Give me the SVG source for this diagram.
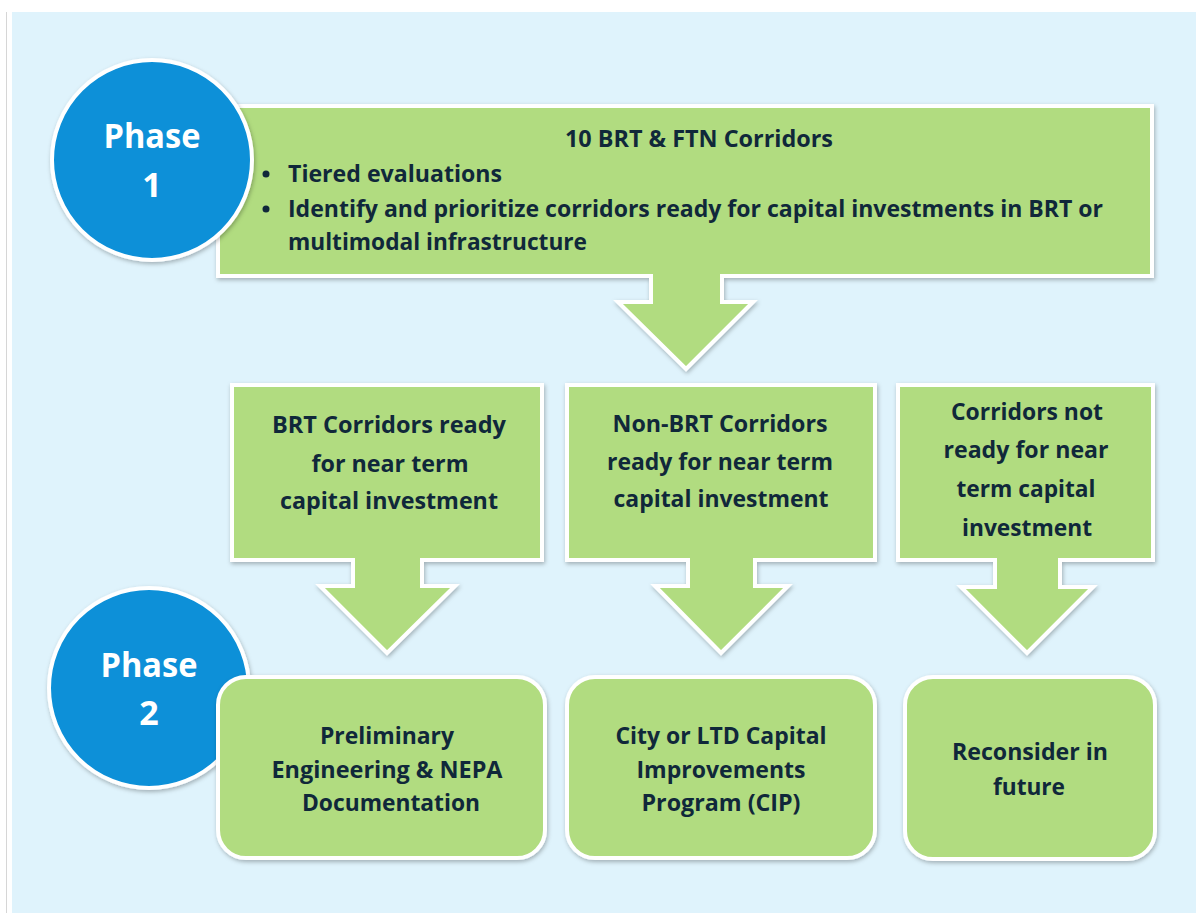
<svg xmlns="http://www.w3.org/2000/svg" width="1196" height="921" viewBox="0 0 1196 921">
<defs>
<filter id="sh" x="-10%" y="-10%" width="120%" height="130%">
<feDropShadow dx="1" dy="2" stdDeviation="2" flood-color="#000" flood-opacity="0.28"/>
</filter>
<style>
.box{fill:#B1DC80;stroke:#fff;stroke-width:4;stroke-linejoin:miter;filter:url(#sh)}
.circ{fill:#0D90D8;stroke:#fff;stroke-width:4;filter:url(#sh)}
.t{font-family:"Open Sans","Noto Sans",sans-serif;font-weight:700;font-size:24px;fill:#10283A}
.c{text-anchor:middle}
.p{font-family:"Open Sans","Noto Sans",sans-serif;font-weight:700;font-size:34px;fill:#fff;text-anchor:middle}
</style>
</defs>
<rect x="0" y="0" width="1196" height="921" fill="#fff"/>
<rect x="12" y="12" width="1184" height="901" fill="#DFF3FC"/>
<line x1="6.5" y1="12" x2="6.5" y2="913" stroke="#d6d6d6" stroke-width="1"/>

<g id="connectors"></g>

<g id="top-callout">
<path class="box" d="M218,106 H1152 V276 H722 V302 H753 L686,369 L618,302 H651 V276 H218 Z"/>
<text class="t c" x="699" y="147" textLength="268" lengthAdjust="spacingAndGlyphs">10 BRT &amp; FTN Corridors</text>
<circle cx="266" cy="174" r="3.5" fill="#10283A"/>
<text class="t" x="288" y="182" textLength="214" lengthAdjust="spacingAndGlyphs">Tiered evaluations</text>
<circle cx="266" cy="209" r="3.5" fill="#10283A"/>
<text class="t" x="288" y="217" textLength="815" lengthAdjust="spacingAndGlyphs">Identify and prioritize corridors ready for capital investments in BRT or</text>
<text class="t" x="288" y="250" textLength="299" lengthAdjust="spacingAndGlyphs">multimodal infrastructure</text>
</g>

<g id="phase1">
<circle class="circ" cx="152" cy="160" r="100"/>
<text class="p" x="152" y="148" textLength="97" lengthAdjust="spacingAndGlyphs">Phase</text>
<text class="p" x="152" y="197">1</text>
</g>

<g id="brt-callout">
<path class="box" d="M232,385 H542 V560 H422 V586 H455 L387,653 L320,586 H353 V560 H232 Z"/>
<text class="t c" x="389" y="433" textLength="234" lengthAdjust="spacingAndGlyphs">BRT Corridors ready</text>
<text class="t c" x="390" y="472" textLength="157" lengthAdjust="spacingAndGlyphs">for near term</text>
<text class="t c" x="389" y="509" textLength="218" lengthAdjust="spacingAndGlyphs">capital investment</text>
</g>

<g id="nonbrt-callout">
<path class="box" d="M567,385 H875 V560 H755 V586 H788 L721,653 L655,586 H688 V560 H567 Z"/>
<text class="t c" x="720" y="432" textLength="215" lengthAdjust="spacingAndGlyphs">Non-BRT Corridors</text>
<text class="t c" x="720" y="470" textLength="226" lengthAdjust="spacingAndGlyphs">ready for near term</text>
<text class="t c" x="721" y="507" textLength="215" lengthAdjust="spacingAndGlyphs">capital investment</text>
</g>

<g id="notready-callout">
<path class="box" d="M898,385 H1153 V560 H1060 V587 H1093 L1027,653 L961,587 H995 V560 H898 Z"/>
<text class="t c" x="1027" y="420" textLength="152" lengthAdjust="spacingAndGlyphs">Corridors not</text>
<text class="t c" x="1026" y="458" textLength="165" lengthAdjust="spacingAndGlyphs">ready for near</text>
<text class="t c" x="1026" y="497" textLength="139" lengthAdjust="spacingAndGlyphs">term capital</text>
<text class="t c" x="1027" y="536" textLength="130" lengthAdjust="spacingAndGlyphs">investment</text>
</g>

<g id="phase2">
<circle class="circ" cx="149" cy="688" r="100"/>
<text class="p" x="149" y="677" textLength="97" lengthAdjust="spacingAndGlyphs">Phase</text>
<text class="p" x="149" y="725">2</text>
</g>

<g id="prelim-box">
<rect class="box" x="218" y="677" width="327" height="181" rx="28"/>
<text class="t c" x="387" y="744" textLength="134" lengthAdjust="spacingAndGlyphs">Preliminary</text>
<text class="t c" x="387" y="778" textLength="231" lengthAdjust="spacingAndGlyphs">Engineering &amp; NEPA</text>
<text class="t c" x="391" y="811" textLength="178" lengthAdjust="spacingAndGlyphs">Documentation</text>
</g>

<g id="cip-box">
<rect class="box" x="567" y="677" width="308" height="181" rx="28"/>
<text class="t c" x="721" y="744" textLength="211" lengthAdjust="spacingAndGlyphs">City or LTD Capital</text>
<text class="t c" x="721" y="778" textLength="169" lengthAdjust="spacingAndGlyphs">Improvements</text>
<text class="t c" x="721" y="811" textLength="159" lengthAdjust="spacingAndGlyphs">Program (CIP)</text>
</g>

<g id="reconsider-box">
<rect class="box" x="905" y="677" width="250" height="182" rx="28"/>
<text class="t c" x="1030" y="760" textLength="156" lengthAdjust="spacingAndGlyphs">Reconsider in</text>
<text class="t c" x="1029" y="795" textLength="72" lengthAdjust="spacingAndGlyphs">future</text>
</g>
</svg>
